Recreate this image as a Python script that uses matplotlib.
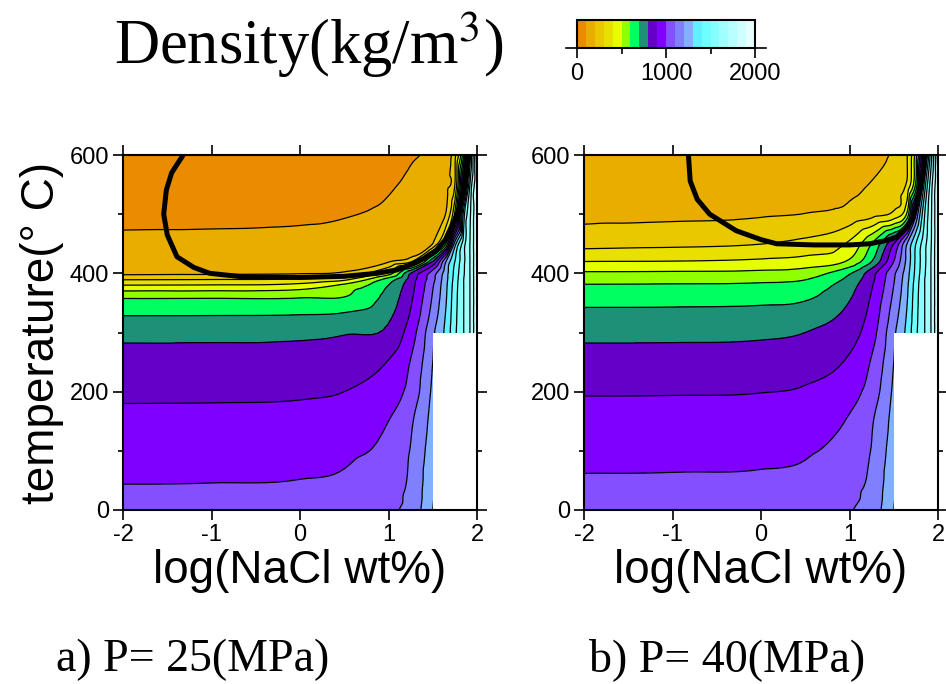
import numpy as np
import matplotlib
matplotlib.use("Agg")
import matplotlib.pyplot as plt
import matplotlib.tri as mtri
from matplotlib.colors import ListedColormap, BoundaryNorm
from matplotlib.cm import ScalarMappable
from matplotlib.patches import Rectangle

plt.rcParams['axes.unicode_minus'] = False
plt.rcParams['mathtext.fontset'] = 'stix'
plt.rcParams['font.family'] = ['Liberation Sans', 'DejaVu Sans']

# grid of density estimates (kg/m3)
log_nacl = [-2.0, -1.0, 0.0, 0.5, 1.0, 1.25, 1.5, 1.65, 1.75, 1.85, 1.92, 2.0]
temps = [0, 50, 100, 150, 200, 250, 300, 330, 360, 380, 390, 400, 420, 450, 500, 550, 600]

density_25 = [
    [1015, 1016, 1022, 1040, 1090, 1130, 1300, 1400, 1520, 1620, 1720, 1920],
    [997, 998, 1001, 1012, 1070, 1115, 1280, 1390, 1510, 1615, 1715, 1915],
    [965, 966, 970, 980, 1030, 1105, 1260, 1380, 1505, 1612, 1712, 1912],
    [925, 926, 930, 945, 1000, 1085, 1240, 1370, 1500, 1610, 1710, 1910],
    [883, 884, 888, 900, 955, 1035, 1220, 1360, 1495, 1607, 1707, 1907],
    [840, 841, 845, 855, 905, 1005, 1200, 1350, 1490, 1604, 1704, 1904],
    [770, 771, 776, 792, 820, 950, 1180, 1330, 1480, 1600, 1700, 1900],
    [695, 696, 700, 712, 780, 910, 1140, 1310, 1470, 1600, 1700, 1900],
    [585, 587, 592, 600, 740, 880, 1110, 1290, 1460, 1600, 1700, 1900],
    [400, 405, 430, 520, 700, 860, 1090, 1280, 1450, 1600, 1700, 1900],
    [290, 295, 310, 370, 640, 840, 1070, 1270, 1440, 1600, 1700, 1900],
    [180, 185, 195, 220, 450, 800, 1050, 1260, 1430, 1590, 1700, 1900],
    [145, 146, 150, 160, 190, 280, 800, 1200, 1400, 1580, 1700, 1900],
    [115, 116, 119, 126, 145, 165, 200, 600, 1250, 1560, 1700, 1900],
    [88, 89, 92, 97, 110, 124, 150, 210, 520, 1450, 1680, 1900],
    [78, 79, 82, 86, 96, 108, 132, 175, 300, 1000, 1600, 1900],
    [70, 71, 73, 77, 87, 96, 115, 165, 270, 700, 1450, 1950],
]

density_40 = [
    [1020, 1021, 1027, 1045, 1095, 1140, 1300, 1400, 1520, 1620, 1720, 1920],
    [1006, 1007, 1010, 1020, 1075, 1120, 1280, 1390, 1510, 1615, 1715, 1915],
    [975, 976, 980, 990, 1040, 1105, 1260, 1380, 1505, 1612, 1712, 1912],
    [936, 937, 941, 955, 1010, 1090, 1240, 1370, 1500, 1610, 1710, 1910],
    [893, 894, 898, 910, 965, 1045, 1220, 1360, 1495, 1607, 1707, 1907],
    [840, 841, 846, 862, 915, 1010, 1200, 1350, 1490, 1604, 1704, 1904],
    [775, 776, 782, 800, 860, 960, 1180, 1330, 1480, 1600, 1700, 1900],
    [725, 726, 733, 752, 830, 935, 1150, 1310, 1470, 1600, 1700, 1900],
    [660, 662, 668, 685, 790, 910, 1120, 1290, 1460, 1600, 1700, 1900],
    [606, 609, 617, 640, 760, 890, 1100, 1280, 1450, 1600, 1700, 1900],
    [560, 563, 572, 595, 730, 875, 1090, 1270, 1440, 1600, 1700, 1900],
    [515, 518, 527, 550, 690, 860, 1080, 1260, 1430, 1590, 1700, 1900],
    [400, 403, 420, 440, 520, 700, 1000, 1230, 1420, 1580, 1700, 1900],
    [270, 280, 298, 330, 420, 600, 900, 1200, 1400, 1570, 1690, 1900],
    [178, 183, 192, 202, 235, 265, 330, 520, 1100, 1500, 1680, 1900],
    [150, 153, 160, 168, 185, 205, 260, 320, 620, 1350, 1650, 1900],
    [135, 137, 142, 150, 165, 180, 215, 295, 560, 1100, 1550, 1950],
]

# liquid-vapour boundary (thick line)
phase_25_x = [-1.32, -1.45, -1.51, -1.54, -1.50, -1.39, -1.20, -1.02, -0.64, 0.0, 0.5, 0.87, 1.10, 1.24, 1.40, 1.54, 1.65, 1.73, 1.80, 1.85, 1.88, 1.90]
phase_25_T = [600, 570, 541, 500, 465, 428, 410, 400, 394, 393, 395, 400, 406, 414, 425, 439, 458, 484, 510, 541, 570, 600]
phase_40_x = [-0.82, -0.80, -0.72, -0.58, -0.28, 0.0, 0.175, 0.6, 1.0, 1.23, 1.40, 1.53, 1.65, 1.72, 1.78, 1.83, 1.85]
phase_40_T = [600, 556, 525, 500, 472, 457, 450, 448, 448, 450, 455, 461, 478, 494, 530, 568, 600]

# halite-saturated corner left blank
halite_x = 1.5
halite_T = 300

levels = np.arange(0, 2001, 100)
bin_colors = ['#e98c00', '#e9ad00', '#e9c800', '#e9e000', '#e6ff00',
              '#90ff00', '#00ff60', '#1e9078', '#6400c8', '#8000ff',
              '#8450ff', '#8080ff', '#80b0ff', '#60f0ff', '#70ffff',
              '#88ffff', '#a0ffff', '#b8ffff', '#d0ffff', '#e8ffff']
cmap = ListedColormap(bin_colors)
cmap.set_over(bin_colors[-1])
norm = BoundaryNorm(levels, cmap.N)

fig = plt.figure(figsize=(9.46, 6.84), dpi=100)
W, H = 946, 684
ax_a = fig.add_axes([123 / W, 1 - 510 / H, 354 / W, 355 / H])
ax_b = fig.add_axes([584 / W, 1 - 510 / H, 354 / W, 355 / H])


def draw_panel(ax, dens, px, pt):
    X, Y = np.meshgrid(log_nacl, temps)
    z = np.array(dens, dtype=float).ravel()
    tri = mtri.Triangulation(X.ravel(), Y.ravel() / 150.0)
    interp = mtri.CubicTriInterpolator(tri, z, kind='geom')
    refiner = mtri.UniformTriRefiner(tri)
    tri_r, tri_idx = refiner.refine_triangulation(subdiv=3, return_tri_index=True)
    z_r = np.asarray(interp(tri_r.x, tri_r.y))
    # keep the smooth surface inside the range of its parent cell (no overshoot)
    corner = z[tri.triangles[tri_idx]]
    z_r = np.clip(z_r, corner.min(axis=1), corner.max(axis=1))
    tri_r = mtri.Triangulation(tri_r.x, tri_r.y * 150.0, tri_r.triangles)
    ax.tricontourf(tri_r, z_r, levels=levels, cmap=cmap, norm=norm, extend='max')
    ax.tricontour(tri_r, z_r, levels=levels[1:], colors='k', linewidths=0.9)
    ax.add_patch(Rectangle((halite_x, 0), 2.0 - halite_x, halite_T,
                           facecolor='white', edgecolor='none', zorder=2.2))
    ax.plot(px, pt, color='k', lw=3.6, zorder=2.3, solid_capstyle='butt')
    ax.set_xlim(-2, 2)
    ax.set_ylim(0, 600)
    ax.set_xticks([-2, -1, 0, 1, 2])
    ax.set_yticks([0, 200, 400, 600])
    ax.set_yticks([100, 300, 500], minor=True)
    ax.tick_params(which='both', direction='out', top=True, right=True,
                   width=1.2, labelsize=17, pad=3)
    ax.tick_params(which='major', length=7)
    ax.tick_params(which='minor', length=3.5)
    for s in ax.spines.values():
        s.set_linewidth(1.5)
        s.set_zorder(3)
    ax.set_xlabel('log(NaCl wt%)', fontsize=33, labelpad=2)


draw_panel(ax_a, density_25, phase_25_x, phase_25_T)
draw_panel(ax_b, density_40, phase_40_x, phase_40_T)
ax_a.set_ylabel('temperature(° C)', fontsize=33, labelpad=4)

# colour scale
cax = fig.add_axes([577 / W, 1 - 48 / H, 178 / W, 28 / H])
cb = fig.colorbar(ScalarMappable(norm=norm, cmap=cmap), cax=cax,
                  orientation='horizontal', ticks=[0, 1000, 2000])
cb.ax.set_xticks([500, 1500], minor=True)
cb.outline.set_linewidth(1.5)
cb.ax.tick_params(which='both', direction='out', width=1.2, labelsize=17)
cb.ax.tick_params(which='major', length=7)
cb.ax.tick_params(which='minor', length=4)
cax.plot([-0.06, 1.06], [0, 0], transform=cax.transAxes, color='k',
         lw=1.2, clip_on=False)

serif = ['Liberation Serif', 'DejaVu Serif']
fig.text(0.326, 0.935, 'Density(kg/m$^3$)', family=serif, fontsize=45,
         ha='center', va='center')
fig.text(0.204, 0.035, 'a) P= 25(MPa)', family=serif, fontsize=33,
         ha='center', va='center')
fig.text(0.769, 0.035, 'b) P= 40(MPa)', family=serif, fontsize=33,
         ha='center', va='center')

fig.savefig('out.png', dpi=100)
